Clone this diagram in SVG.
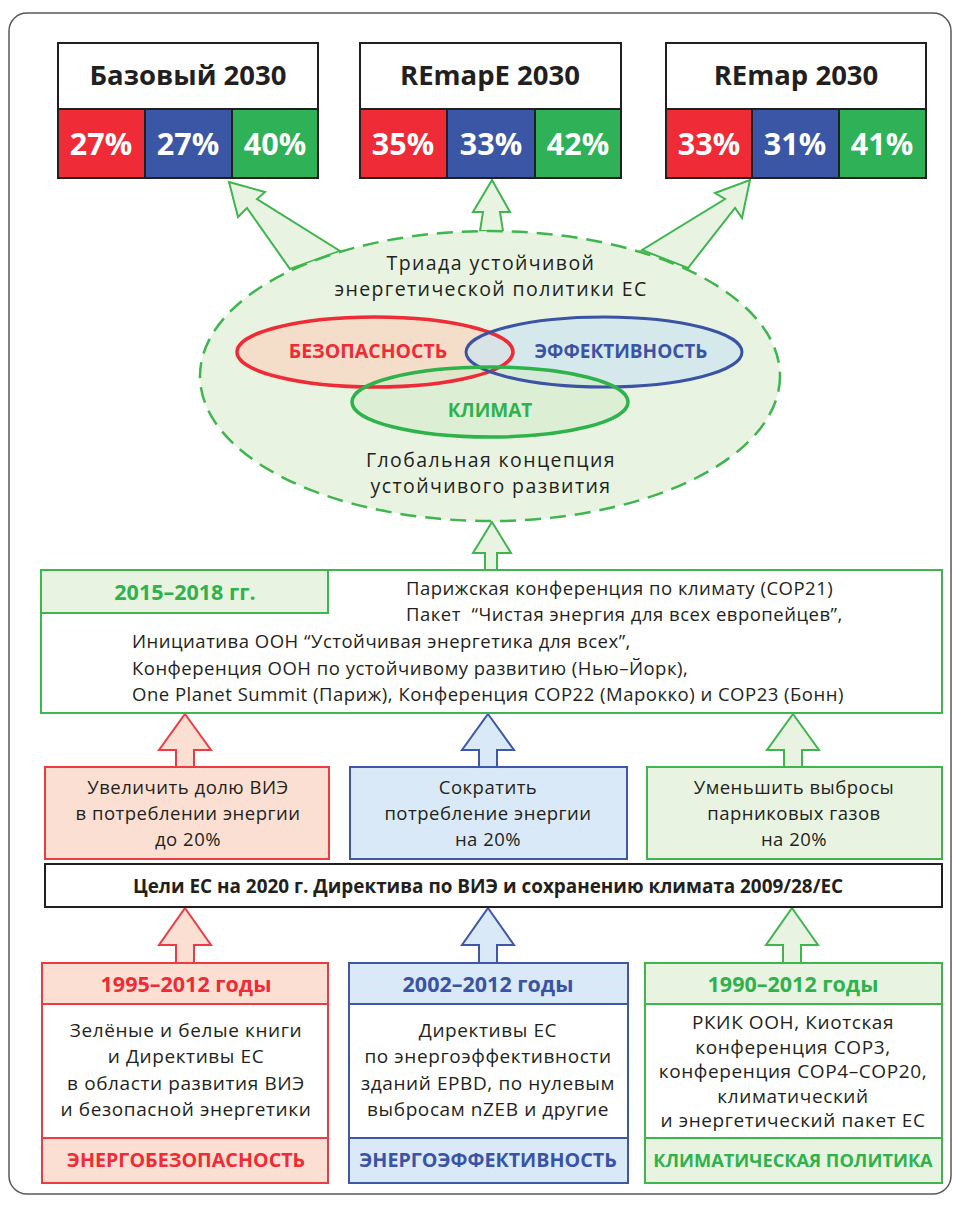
<svg xmlns="http://www.w3.org/2000/svg" width="958" height="1206" viewBox="0 0 958 1206">
<style>
text{font-family:"Open Sans","Noto Sans","Liberation Sans",sans-serif;text-anchor:middle;fill:#231f20}
.t{font-size:27.5px;font-weight:bold}
.p{font-size:30.5px;font-weight:bold;fill:#fff}
.b{font-size:18.5px;letter-spacing:0.5px}
.bb{font-size:19px;letter-spacing:0.6px}
.e{font-size:19.5px;letter-spacing:1.4px}
.lb{text-anchor:start}
.hd{font-size:21.5px;font-weight:bold}
.ft{font-size:19.7px;font-weight:bold}
.r{fill:#ee2b36}.bl{fill:#3a53a4}.g{fill:#2fb24c}
.sr{stroke:#ee3b43;stroke-width:2}.sb{stroke:#3e57a6;stroke-width:2}.sg{stroke:#3fb54e;stroke-width:2}
.fr{fill:#fbdfd2}.fb{fill:#d9e9f7}.fg{fill:#e8f4e1}
</style>
<rect x="9" y="13" width="942" height="1181" rx="18" fill="#fff" stroke="#58595b" stroke-width="1.5"/>

<g id="connectors" fill="#e8f4e1" stroke="#3fb54e" stroke-width="2" stroke-linejoin="miter">
<polygon points="229,182 265,192 257,199 340,251 290,269 247,208 238,217"/>
<polygon points="492,180 510,212 500,212 503,231 480,231 483,212 473,212"/>
<polygon points="750,180 742,218 735,208 688,268 642,250 725,199 715,193"/>
<polygon points="492,522 511,553 497,553 497,571 485,571 485,553 473,553"/>
<polygon class="sr" fill="#fbdfd2" points="185,714 211,750 194,750 194,767 176,767 176,750 159,750"/>
<polygon class="sb" fill="#d9e9f7" points="488,714 514,750 497,750 497,767 479,767 479,750 462,750"/>
<polygon points="793,714 819,750 802,750 802,767 784,767 784,750 767,750"/>
<polygon class="sr" fill="#fbdfd2" points="185,908 211,945 194,945 194,963 176,963 176,945 159,945"/>
<polygon class="sb" fill="#d9e9f7" points="488,908 514,945 497,945 497,963 479,963 479,945 462,945"/>
<polygon points="792,908 818,945 801,945 801,963 783,963 783,945 766,945"/>
</g>

<g id="base2030">
<rect x="58" y="43" width="260" height="135" fill="#fff" stroke="#231f20" stroke-width="2"/>
<rect x="58" y="109" width="87" height="69" fill="#ee2b36" stroke="#231f20" stroke-width="2"/>
<rect x="145" y="109" width="87" height="69" fill="#3c56a6" stroke="#231f20" stroke-width="2"/>
<rect x="232" y="109" width="86" height="69" fill="#2eb157" stroke="#231f20" stroke-width="2"/>
<text class="t" x="188" y="85">Базовый 2030</text>
<text class="p" x="101" y="155">27%</text>
<text class="p" x="188" y="155">27%</text>
<text class="p" x="275" y="155">40%</text>
</g>
<g id="remape2030">
<rect x="360" y="43" width="261" height="135" fill="#fff" stroke="#231f20" stroke-width="2"/>
<rect x="360" y="109" width="87" height="69" fill="#ee2b36" stroke="#231f20" stroke-width="2"/>
<rect x="447" y="109" width="88" height="69" fill="#3c56a6" stroke="#231f20" stroke-width="2"/>
<rect x="535" y="109" width="86" height="69" fill="#2eb157" stroke="#231f20" stroke-width="2"/>
<text class="t" x="490" y="85">REmapE 2030</text>
<text class="p" x="403" y="155">35%</text>
<text class="p" x="491" y="155">33%</text>
<text class="p" x="578" y="155">42%</text>
</g>
<g id="remap2030">
<rect x="666" y="43" width="260" height="135" fill="#fff" stroke="#231f20" stroke-width="2"/>
<rect x="666" y="109" width="86" height="69" fill="#ee2b36" stroke="#231f20" stroke-width="2"/>
<rect x="752" y="109" width="87" height="69" fill="#3c56a6" stroke="#231f20" stroke-width="2"/>
<rect x="839" y="109" width="87" height="69" fill="#2eb157" stroke="#231f20" stroke-width="2"/>
<text class="t" x="796" y="85">REmap 2030</text>
<text class="p" x="709" y="155">33%</text>
<text class="p" x="795" y="155">31%</text>
<text class="p" x="882" y="155">41%</text>
</g>

<g id="triad">
<ellipse cx="490" cy="376" rx="290" ry="145" fill="#e8f4e1" stroke="#3fb54e" stroke-width="2.5" stroke-dasharray="16 9"/>
<text class="e" x="491" y="270">Триада устойчивой</text>
<text class="e" x="491" y="296">энергетической политики ЕС</text>
<ellipse cx="375" cy="352" rx="138" ry="35" fill="#f6d9c4" fill-opacity="0.85"/>
<ellipse cx="604" cy="352" rx="138" ry="35" fill="#cfe4ee" fill-opacity="0.75"/>
<ellipse cx="490" cy="402" rx="138" ry="35" fill="#d3eac9" fill-opacity="0.6"/>
<ellipse cx="375" cy="352" rx="138" ry="35" fill="none" stroke="#ee2b36" stroke-width="3.5"/>
<ellipse cx="604" cy="352" rx="138" ry="35" fill="none" stroke="#3a53a4" stroke-width="3"/>
<ellipse cx="490" cy="402" rx="138" ry="35" fill="none" stroke="#2fb24c" stroke-width="3.5"/>
<text class="ft r" x="368" y="358" style="font-size:19.5px">БЕЗОПАСНОСТЬ</text>
<text class="ft bl" x="621" y="358" style="font-size:19px">ЭФФЕКТИВНОСТЬ</text>
<text class="ft g" x="490" y="417" style="font-size:19px">КЛИМАТ</text>
<text class="e" x="491" y="467">Глобальная концепция</text>
<text class="e" x="491" y="493">устойчивого развития</text>
</g>

<g id="period2015">
<rect x="41" y="570" width="901" height="143" fill="#fff" class="sg"/>
<rect x="41" y="570" width="287" height="43" class="fg sg"/>
<text class="hd g" x="185" y="600">2015–2018 гг.</text>
<text class="b lb" x="406" y="595">Парижская конференция по климату (COP21)</text>
<text class="b lb" x="406" y="621" xml:space="preserve">Пакет  “Чистая энергия для всех европейцев”,</text>
<text class="b lb" x="132" y="648">Инициатива ООН “Устойчивая энергетика для всех”,</text>
<text class="b lb" x="132" y="675">Конференция ООН по устойчивому развитию (Нью–Йорк),</text>
<text class="b lb" x="132" y="701">One Planet Summit (Париж), Конференция COP22 (Марокко) и COP23 (Бонн)</text>
</g>

<g id="goal-res">
<rect x="45" y="767" width="284" height="92" class="fr sr"/>
<text class="b" x="188" y="794">Увеличить долю ВИЭ</text>
<text class="b" x="188" y="820">в потреблении энергии</text>
<text class="b" x="188" y="846">до 20%</text>
</g>
<g id="goal-eff">
<rect x="350" y="767" width="277" height="92" class="fb sb"/>
<text class="b" x="488" y="794">Сократить</text>
<text class="b" x="488" y="820">потребление энергии</text>
<text class="b" x="488" y="846">на 20%</text>
</g>
<g id="goal-ghg">
<rect x="647" y="767" width="295" height="92" class="fg sg"/>
<text class="b" x="794" y="794">Уменьшить выбросы</text>
<text class="b" x="794" y="820">парниковых газов</text>
<text class="b" x="794" y="846">на 20%</text>
</g>

<g id="eu2020">
<rect x="45" y="864" width="897" height="43" fill="#fff" stroke="#231f20" stroke-width="2"/>
<text x="488" y="893" style="font-size:18.9px;font-weight:bold">Цели ЕС на 2020 г. Директива по ВИЭ и сохранению климата 2009/28/ЕС</text>
</g>

<g id="security">
<rect x="42" y="963" width="286" height="220" fill="#fff" class="sr"/>
<rect x="42" y="963" width="286" height="41" class="fr sr"/>
<rect x="42" y="1138" width="286" height="45" class="fr sr"/>
<text class="hd r" x="186" y="992">1995–2012 годы</text>
<text class="bb" x="186" y="1037">Зелёные и белые книги</text>
<text class="bb" x="186" y="1063">и Директивы ЕС</text>
<text class="bb" x="186" y="1090">в области развития ВИЭ</text>
<text class="bb" x="186" y="1116">и безопасной энергетики</text>
<text class="ft r" x="186" y="1167">ЭНЕРГОБЕЗОПАСНОСТЬ</text>
</g>
<g id="efficiency">
<rect x="349" y="963" width="279" height="220" fill="#fff" class="sb"/>
<rect x="349" y="963" width="279" height="41" class="fb sb"/>
<rect x="349" y="1138" width="279" height="45" class="fb sb"/>
<text class="hd bl" x="488" y="992">2002–2012 годы</text>
<text class="bb" x="488" y="1037">Директивы ЕС</text>
<text class="bb" x="488" y="1063">по энергоэффективности</text>
<text class="bb" x="488" y="1090">зданий EPBD, по нулевым</text>
<text class="bb" x="488" y="1116">выбросам nZEB и другие</text>
<text class="ft bl" x="488" y="1167">ЭНЕРГОЭФФЕКТИВНОСТЬ</text>
</g>
<g id="climate">
<rect x="645" y="963" width="297" height="220" fill="#fff" class="sg"/>
<rect x="645" y="963" width="297" height="41" class="fg sg"/>
<rect x="645" y="1138" width="297" height="45" class="fg sg"/>
<text class="hd g" x="793" y="992">1990–2012 годы</text>
<text class="bb" x="793" y="1029">РКИК ООН, Киотская</text>
<text class="bb" x="793" y="1054">конференция COP3,</text>
<text class="bb" x="793" y="1078">конференция COP4–COP20,</text>
<text class="bb" x="793" y="1103">климатический</text>
<text class="bb" x="793" y="1127">и энергетический пакет ЕС</text>
<text class="ft g" x="793" y="1167" style="font-size:18.2px">КЛИМАТИЧЕСКАЯ ПОЛИТИКА</text>
</g>
</svg>
